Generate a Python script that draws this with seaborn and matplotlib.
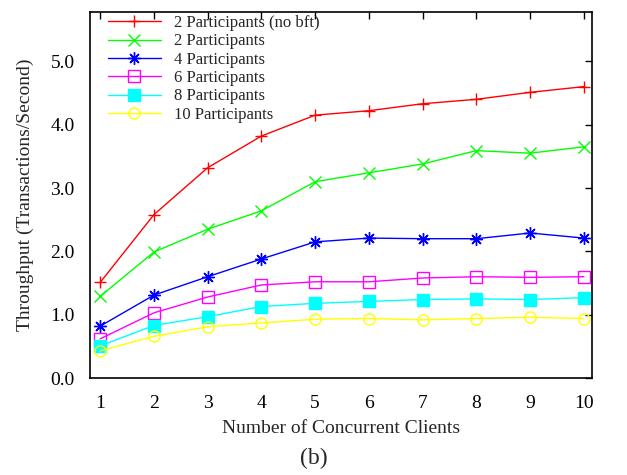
import pandas as pd
import matplotlib
matplotlib.use('Agg')
import matplotlib.pyplot as plt
import seaborn as sns

# Data
clients = [1, 2, 3, 4, 5, 6, 7, 8, 9, 10]
p2_nobft = [1.51, 2.58, 3.32, 3.82, 4.15, 4.22, 4.33, 4.40, 4.51, 4.60]
p2 = [1.29, 1.99, 2.35, 2.64, 3.10, 3.24, 3.38, 3.59, 3.55, 3.65]
p4 = [0.82, 1.31, 1.60, 1.88, 2.15, 2.21, 2.20, 2.20, 2.29, 2.21]
p6 = [0.62, 1.03, 1.28, 1.47, 1.52, 1.52, 1.58, 1.60, 1.59, 1.60]
p8 = [0.51, 0.83, 0.97, 1.13, 1.18, 1.21, 1.24, 1.25, 1.24, 1.27]
p10 = [0.43, 0.66, 0.81, 0.87, 0.93, 0.94, 0.92, 0.94, 0.96, 0.94]
labels = ['2 Participants (no bft)', '2 Participants', '4 Participants',
          '6 Participants', '8 Participants', '10 Participants']

sns.set_style('white')
plt.rcParams['font.family'] = ['Liberation Serif', 'DejaVu Serif']

fig = plt.figure(figsize=(6.27, 4.75), dpi=100)
ax = fig.add_axes([0.1435, 0.204, 0.8005, 0.771])

series = [p2_nobft, p2, p4, p6, p8, p10]
colors = ['#ff0000', '#00ff00', '#0000ff', '#ff00ff', '#00ffff', '#ffff00']
markers = ['+', 'x', (8, 2, 0), 's', 's', 'o']
fills = ['full', 'full', 'full', 'none', 'full', 'none']
sizes = [9, 8, 9, 8, 8, 8]

for vals, lab, c, m, f, ms in zip(series, labels, colors, markers, fills, sizes):
    df = pd.DataFrame({'x': clients, 'y': vals})
    sns.lineplot(data=df, x='x', y='y', ax=ax, color=c, marker=m, fillstyle=f,
                 markersize=ms, markeredgecolor=c, markeredgewidth=1.0,
                 linewidth=1.0, label=lab)

ax.set_xlim(0.81, 10.15)
ax.set_ylim(0, 5.78)
ax.set_xticks(clients)
ax.set_yticks([0, 1, 2, 3, 4, 5])
ax.set_yticklabels(['%.1f' % v for v in [0, 1, 2, 3, 4, 5]])
ax.tick_params(direction='in', top=True, right=True, length=5, width=1,
               labelsize=14, colors='black')
ax.tick_params(axis='y', pad=11)
ax.tick_params(axis='x', pad=12)
for s in ax.spines.values():
    s.set_linewidth(1.2)
    s.set_color('black')

ax.set_xlabel('Number of Concurrent Clients', fontsize=14, labelpad=6)
ax.set_ylabel('Throughput (Transactions/Second)', fontsize=14, labelpad=12)

ax.legend(loc='upper left', frameon=False, fontsize=12, handlelength=3.2,
          labelspacing=0.14, borderaxespad=0.0, borderpad=0.1,
          handletextpad=0.8, bbox_to_anchor=(0.032, 0.996))

fig.text(0.5, 0.035, '(b)', ha='center', va='center', fontsize=17)

fig.savefig('out.png', dpi=100)
